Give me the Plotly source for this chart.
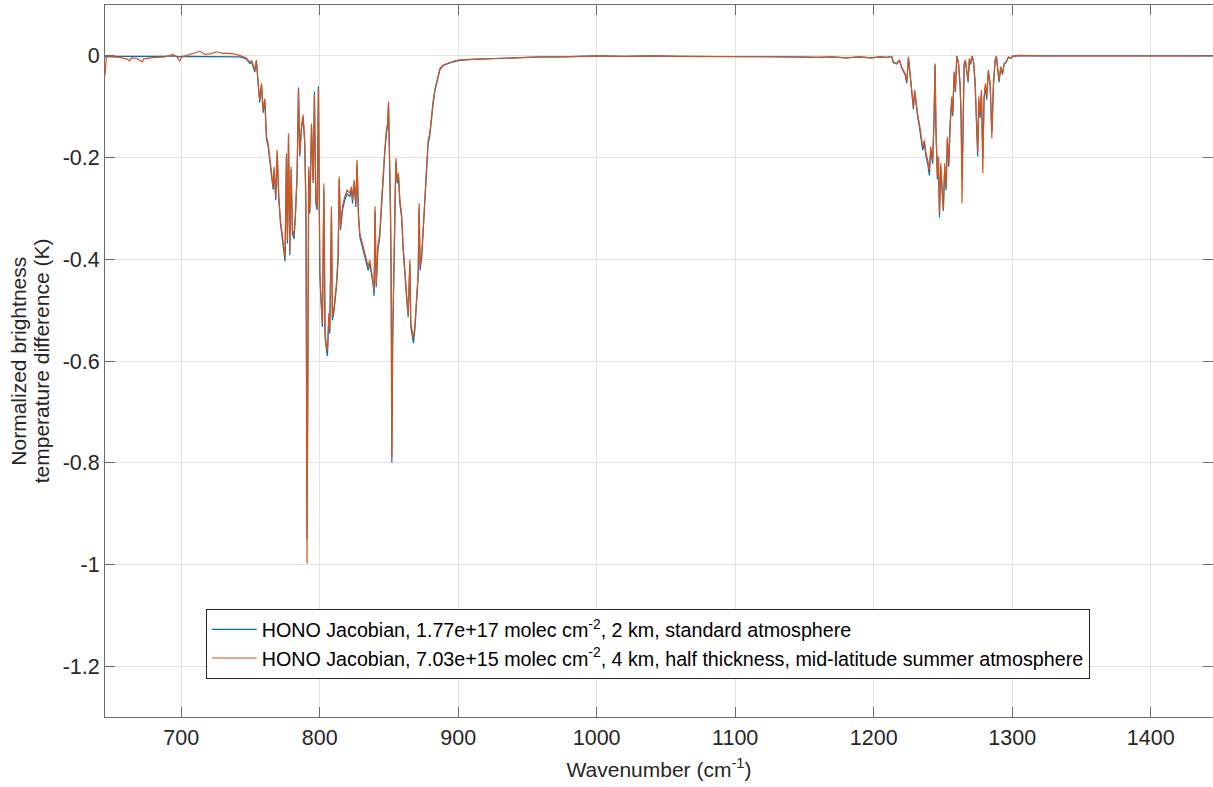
import plotly.graph_objects as go

# Wavenumber (cm-1)
wn = [645.0, 646.0, 650.0, 655.6, 661.6, 662.8, 664.0, 668.0, 672.0, 673.0, 678.0, 682.0, 688.0, 694.1, 697.0, 698.9,
      700.5, 703.0, 706.4, 710.0, 713.6, 717.2, 721.0, 725.6, 730.0, 734.0, 738.0, 742.3, 745.0, 747.0, 749.5, 751.0,
      753.1, 754.3, 755.5, 756.7, 758.0, 759.2, 760.4, 761.6, 762.8, 764.0, 765.2, 766.4, 767.1, 768.3, 769.3, 770.5,
      771.7, 773.1, 774.3, 775.0, 776.0, 776.7, 777.5, 778.4, 779.4, 780.3, 781.5, 782.5, 783.7, 784.7, 785.6, 786.8,
      788.0, 789.2, 790.1, 790.9, 791.5, 792.1, 792.9, 794.1, 795.3, 796.2, 797.2, 798.2, 799.1, 800.1, 800.8, 802.0,
      803.0, 803.9, 804.9, 805.6, 806.6, 807.3, 808.5, 809.2, 810.4, 812.1, 813.3, 814.1, 815.0, 816.5, 818.1, 819.8,
      821.7, 823.0, 823.7, 824.9, 826.1, 827.0, 828.0, 829.0, 830.2, 831.4, 832.6, 833.8, 835.0, 836.2, 837.4, 838.6,
      839.3, 840.0, 840.8, 842.0, 843.4, 844.6, 845.8, 847.0, 848.2, 849.0, 849.7, 850.4, 851.1, 851.6, 852.1, 852.7,
      853.5, 854.3, 855.0, 856.0, 856.9, 857.9, 859.1, 860.3, 861.5, 862.7, 863.9, 865.1, 865.8, 867.0, 867.7, 868.7,
      869.9, 871.1, 871.8, 872.5, 873.7, 875.2, 876.6, 878.3, 879.5, 880.7, 881.9, 883.1, 884.3, 885.6, 886.8, 889.2,
      891.6, 894.0, 897.6, 901.2, 910.0, 920.0, 930.0, 940.0, 950.0, 960.0, 975.0, 990.0, 1000.0, 1020.0, 1040.0, 1060.0,
      1080.0, 1100.0, 1120.0, 1140.0, 1160.0, 1170.0, 1180.0, 1190.0, 1198.0, 1204.6, 1209.4, 1213.0, 1214.2, 1216.6, 1218.6, 1220.2,
      1222.7, 1223.9, 1225.1, 1226.0, 1227.5, 1228.7, 1229.6, 1230.6, 1231.8, 1233.0, 1234.2, 1235.4, 1236.6, 1237.8, 1239.0, 1240.2,
      1241.2, 1242.6, 1243.6, 1244.3, 1245.0, 1246.0, 1246.7, 1247.5, 1248.4, 1249.4, 1250.3, 1251.3, 1252.3, 1253.2, 1254.2, 1255.2,
      1256.4, 1257.1, 1258.1, 1259.0, 1260.0, 1261.2, 1262.4, 1263.1, 1263.8, 1264.5, 1265.3, 1266.2, 1267.2, 1268.2, 1269.1, 1270.1,
      1271.0, 1272.0, 1273.2, 1274.4, 1275.1, 1275.9, 1276.8, 1277.8, 1278.8, 1279.7, 1280.7, 1281.6, 1282.8, 1284.1, 1285.3, 1286.5,
      1287.7, 1288.6, 1289.6, 1290.5, 1291.8, 1293.0, 1294.2, 1295.6, 1297.3, 1299.0, 1300.4, 1305.7, 1320.0, 1340.0, 1445.0]

# HONO Jacobian, 1.77e+17 molec cm-2, 2 km, standard atmosphere (blue)
bt_std = [-0.002, -0.001, -0.001, -0.001, -0.001, -0.002, -0.001, -0.001, -0.002, -0.001, -0.001, -0.001, -0.001, 0.000, -0.001, -0.002,
          -0.001, -0.001, -0.001, -0.001, -0.001, -0.001, -0.001, -0.001, -0.001, -0.001, -0.001, -0.002, -0.004, -0.006, -0.015, -0.013,
          -0.032, -0.012, -0.052, -0.092, -0.058, -0.112, -0.088, -0.165, -0.178, -0.211, -0.237, -0.263, -0.224, -0.284, -0.192, -0.284,
          -0.330, -0.369, -0.389, -0.404, -0.198, -0.369, -0.158, -0.392, -0.224, -0.349, -0.360, -0.316, -0.238, -0.062, -0.198, -0.145,
          -0.121, -0.172, -0.300, -0.950, -0.300, -0.224, -0.310, -0.139, -0.250, -0.070, -0.290, -0.303, -0.060, -0.428, -0.474, -0.533,
          -0.262, -0.553, -0.579, -0.590, -0.514, -0.546, -0.310, -0.520, -0.501, -0.455, -0.402, -0.243, -0.343, -0.303, -0.284, -0.271,
          -0.277, -0.264, -0.290, -0.251, -0.297, -0.212, -0.316, -0.356, -0.369, -0.383, -0.396, -0.409, -0.422, -0.409, -0.429, -0.450,
          -0.472, -0.305, -0.455, -0.383, -0.356, -0.297, -0.238, -0.191, -0.152, -0.139, -0.095, -0.172, -0.303, -0.435, -0.800, -0.560,
          -0.435, -0.271, -0.208, -0.251, -0.238, -0.290, -0.316, -0.383, -0.435, -0.474, -0.514, -0.410, -0.533, -0.553, -0.565, -0.540,
          -0.488, -0.435, -0.300, -0.422, -0.396, -0.316, -0.251, -0.172, -0.158, -0.118, -0.094, -0.071, -0.057, -0.038, -0.027, -0.019,
          -0.016, -0.014, -0.011, -0.009, -0.007, -0.006, -0.005, -0.004, -0.003, -0.002, -0.002, -0.001, 0.000, -0.001, 0.000, -0.001,
          -0.001, -0.002, -0.001, -0.002, -0.003, -0.002, -0.004, -0.002, -0.004, -0.002, -0.003, -0.001, -0.013, -0.016, -0.009, -0.024,
          -0.037, -0.054, -0.004, -0.030, -0.071, -0.105, -0.070, -0.099, -0.121, -0.139, -0.165, -0.186, -0.172, -0.199, -0.212, -0.235,
          -0.186, -0.212, -0.126, -0.018, -0.150, -0.243, -0.205, -0.318, -0.218, -0.264, -0.305, -0.218, -0.264, -0.165, -0.218, -0.139,
          -0.085, -0.118, -0.034, -0.071, -0.001, -0.014, -0.060, -0.122, -0.240, -0.154, -0.018, -0.010, -0.031, -0.052, -0.007, -0.017,
          -0.001, -0.010, -0.054, -0.156, -0.198, -0.090, -0.122, -0.074, -0.200, -0.086, -0.060, -0.086, -0.031, -0.058, -0.150, -0.058,
          -0.010, -0.001, -0.023, -0.052, -0.023, -0.037, -0.016, -0.013, -0.003, -0.005, -0.001, 0.000, 0.000, 0.000, 0.000]

# HONO Jacobian, 7.03e+15 molec cm-2, 4 km, half thickness, mid-latitude summer atmosphere (orange)
bt_mls = [-0.038, -0.002, -0.002, -0.003, -0.007, -0.010, -0.004, -0.005, -0.012, -0.006, -0.004, -0.003, -0.002, 0.003, -0.002, -0.010,
          -0.002, 0.000, 0.003, 0.005, 0.009, 0.003, 0.004, 0.008, 0.005, 0.005, 0.004, 0.001, -0.002, -0.004, -0.012, -0.010,
          -0.028, -0.008, -0.048, -0.087, -0.054, -0.107, -0.084, -0.159, -0.172, -0.205, -0.231, -0.257, -0.218, -0.277, -0.185, -0.277,
          -0.323, -0.362, -0.381, -0.395, -0.192, -0.362, -0.152, -0.385, -0.218, -0.342, -0.352, -0.309, -0.231, -0.067, -0.192, -0.139,
          -0.116, -0.166, -0.300, -0.998, -0.300, -0.218, -0.303, -0.133, -0.244, -0.077, -0.283, -0.296, -0.064, -0.421, -0.466, -0.525,
          -0.251, -0.545, -0.571, -0.580, -0.506, -0.538, -0.296, -0.512, -0.493, -0.447, -0.394, -0.237, -0.336, -0.296, -0.277, -0.264,
          -0.270, -0.257, -0.283, -0.244, -0.290, -0.205, -0.309, -0.349, -0.362, -0.375, -0.388, -0.401, -0.414, -0.401, -0.421, -0.440,
          -0.460, -0.296, -0.447, -0.375, -0.349, -0.290, -0.231, -0.185, -0.146, -0.133, -0.090, -0.166, -0.296, -0.427, -0.790, -0.560,
          -0.427, -0.264, -0.202, -0.244, -0.231, -0.283, -0.309, -0.375, -0.427, -0.466, -0.506, -0.401, -0.525, -0.545, -0.555, -0.532,
          -0.480, -0.427, -0.290, -0.414, -0.388, -0.309, -0.244, -0.166, -0.152, -0.113, -0.090, -0.067, -0.054, -0.035, -0.025, -0.018,
          -0.015, -0.013, -0.010, -0.008, -0.007, -0.006, -0.004, -0.004, -0.003, -0.002, -0.002, -0.001, 0.000, -0.001, 0.000, -0.001,
          -0.001, -0.002, -0.001, -0.002, -0.003, -0.002, -0.004, -0.002, -0.004, -0.002, -0.003, -0.001, -0.012, -0.015, -0.008, -0.022,
          -0.035, -0.051, -0.002, -0.028, -0.067, -0.100, -0.067, -0.094, -0.116, -0.133, -0.159, -0.179, -0.166, -0.192, -0.205, -0.224,
          -0.179, -0.205, -0.120, -0.015, -0.146, -0.237, -0.198, -0.310, -0.211, -0.257, -0.300, -0.211, -0.257, -0.159, -0.211, -0.133,
          -0.080, -0.113, -0.031, -0.067, 0.000, -0.012, -0.054, -0.113, -0.290, -0.146, -0.015, -0.008, -0.028, -0.048, -0.005, -0.015,
          0.000, -0.008, -0.048, -0.146, -0.188, -0.080, -0.113, -0.067, -0.231, -0.080, -0.054, -0.080, -0.028, -0.054, -0.162, -0.054,
          -0.008, 0.000, -0.021, -0.048, -0.021, -0.035, -0.015, -0.012, -0.002, -0.005, 0.000, 0.001, 0.000, 0.000, 0.000]

name_std = "HONO Jacobian, 1.77e+17 molec cm<sup>-2</sup>, 2 km, standard atmosphere"
name_mls = "HONO Jacobian, 7.03e+15 molec cm<sup>-2</sup>, 4 km, half thickness, mid-latitude summer atmosphere"
y_title_lines = ["Normalized brightness", "temperature difference (K)"]
x_title = "Wavenumber (cm<sup>-1</sup>)"

y_ticks = [-1.2, -1.0, -0.8, -0.6, -0.4, -0.2, 0.0]
y_ticktext = ["-1.2", "-1", "-0.8", "-0.6", "-0.4", "-0.2", "0"]
x_ticks = [700, 800, 900, 1000, 1100, 1200, 1300, 1400]

FONT = "Liberation Sans, Arial, sans-serif"
TXT = "#262626"

fig = go.Figure()
fig.add_trace(go.Scatter(x=wn, y=bt_std, mode="lines", name=name_std,
                         line=dict(color="#0072BD", width=1.2)))
fig.add_trace(go.Scatter(x=wn, y=bt_mls, mode="lines", name=name_mls,
                         line=dict(color="#D95319", width=1.2)))

axis_common = dict(showline=True, linecolor="#6b6b6b", linewidth=1, mirror="ticks",
                   ticks="inside", ticklen=10, tickcolor="#6b6b6b", tickwidth=1,
                   showgrid=True, gridcolor="#e3e3e3", gridwidth=1, zeroline=False,
                   tickfont=dict(family=FONT, size=21.5, color=TXT))

fig.update_xaxes(range=[645, 1445], tickvals=x_ticks, ticklabelstandoff=1,
                 title=dict(text=x_title, standoff=13,
                            font=dict(family=FONT, size=21, color=TXT)),
                 **axis_common)
fig.update_yaxes(range=[-1.3, 0.1], tickvals=y_ticks, ticktext=y_ticktext,
                 **axis_common)

# two-line y-axis title (MATLAB-like tight line spacing)
for xp, line in zip([-0.0788, -0.0575], y_title_lines):
    fig.add_annotation(text=line, xref="paper", yref="paper", x=xp, y=0.5,
                       xanchor="center", yanchor="middle", textangle=-90, showarrow=False,
                       font=dict(family=FONT, size=21, color=TXT))

fig.update_layout(
    width=1213, height=787,
    margin=dict(l=105, r=0, t=5, b=70),
    plot_bgcolor="white", paper_bgcolor="white",
    showlegend=True,
    legend=dict(x=0.0909, y=0.1516, xanchor="left", yanchor="top",
                bgcolor="white", bordercolor=TXT, borderwidth=1,
                font=dict(family=FONT, size=19.7, color="#000000"),
                itemwidth=45),
)

fig.write_html("out.html", config={"displayModeBar": False},
               post_script="document.body.style.margin='0px';document.body.style.overflow='hidden';")
